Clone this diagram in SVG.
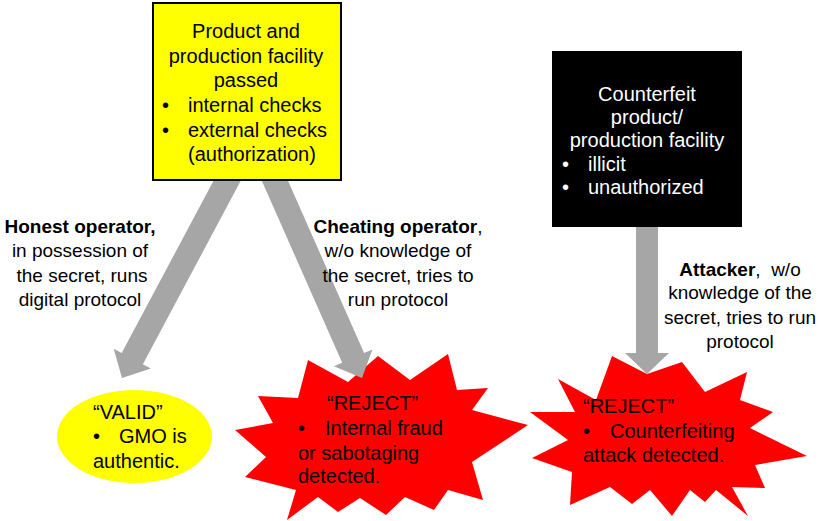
<svg xmlns="http://www.w3.org/2000/svg" width="823" height="521" viewBox="0 0 823 521">
<style>
text{font-family:"Liberation Sans",Arial,sans-serif;font-size:20px;fill:#000}
.lbl{font-size:19px}
.c{text-anchor:middle}
.w{fill:#fff}
.b{font-weight:bold}
.arrow{fill:#a6a6a6;stroke:none}
.star{fill:#ff0000;stroke:none}
</style>
<rect width="823" height="521" fill="#fff"/>
<g id="node-product">
<rect x="153" y="3" width="188" height="177" fill="#ffff00" stroke="#000" stroke-width="2"/>
<text class="c" x="246" y="38">Product and</text>
<text class="c" x="246" y="63">production facility</text>
<text class="c" x="246" y="87">passed</text>
<text x="162" y="112">•</text><text x="188" y="112">internal checks</text>
<text x="162" y="137">•</text><text x="188" y="137">external checks</text>
<text x="188" y="161">(authorization)</text>
</g>
<g id="node-counterfeit">
<rect x="552" y="51" width="190" height="176" fill="#000"/>
<text class="c w" x="647" y="101">Counterfeit</text>
<text class="c w" x="647" y="124">product/</text>
<text class="c w" x="647" y="147">production facility</text>
<text class="w" x="562" y="171">•</text><text class="w" x="588" y="171">illicit</text>
<text class="w" x="562" y="194">•</text><text class="w" x="588" y="194">unauthorized</text>
</g>
<g id="node-valid">
<ellipse cx="134.5" cy="436.5" rx="77.5" ry="46.5" fill="#ffff00"/>
<text x="93" y="419">“VALID”</text>
<text x="93" y="443">•</text><text x="119" y="443">GMO is</text>
<text x="93" y="468">authentic.</text>
</g>
<g id="node-reject-internal">
<polygon class="star" points="308,360 348,382 378,356 410,380 448,354 457,390 488,388 472,410 528,425 472,462 483,500 448,490 434,510 405,497 386,515 360,498 338,512 318,497 287,520 296,490 245,477 266,457 235,430 273,423 258,396 298,398"/>
<text x="327" y="410">“REJECT”</text>
<text x="298" y="435">•</text><text x="325" y="435">Internal fraud</text>
<text x="298" y="460">or sabotaging</text>
<text x="298" y="483">detected.</text>
</g>
<g id="node-reject-counterfeit">
<polygon class="star" points="558,379 596,400 612,356 647,374 682,362 705,392 747,372 740,400 773,412 750,428 807,456 755,465 765,488 732,487 748,516 716,490 705,502 690,490 672,516 650,490 632,504 610,487 570,505 572,472 532,458 568,440 530,412 575,412"/>
<text x="583" y="413">“REJECT”</text>
<text x="583" y="438">•</text><text x="610" y="438">Counterfeiting</text>
<text x="583" y="462">attack detected.</text>
</g>
<g id="connectors">
<polygon class="arrow" points="213.4,181 240.6,181 142.9,364.2 150.9,368.4 122,378 113.7,348.8 121.7,353"/>
<polygon class="arrow" points="261.9,181 288.1,181 364.1,353 372.4,349.4 362,378 333.9,366.3 342.2,362.7"/>
<polygon class="arrow" points="636,227 658,227 658,353 669,353 647,374 625,353 636,353"/>
</g>
<g id="labels">
<text class="lbl c b" x="80" y="233">Honest operator,</text>
<text class="lbl c" x="80" y="257">in possession of</text>
<text class="lbl c" x="82" y="282">the secret, runs</text>
<text class="lbl c" x="80" y="306">digital protocol</text>
<text class="lbl c" x="398" y="233"><tspan class="b">Cheating operator</tspan>,</text>
<text class="lbl c" x="398" y="257">w/o knowledge of</text>
<text class="lbl c" x="398" y="282">the secret, tries to</text>
<text class="lbl c" x="398" y="306">run protocol</text>
<text class="lbl c" x="740" y="276" xml:space="preserve"><tspan class="b">Attacker</tspan>,  w/o</text>
<text class="lbl c" x="740" y="299">knowledge of the</text>
<text class="lbl c" x="740" y="324">secret, tries to run</text>
<text class="lbl c" x="740" y="348">protocol</text>
</g>
</svg>
